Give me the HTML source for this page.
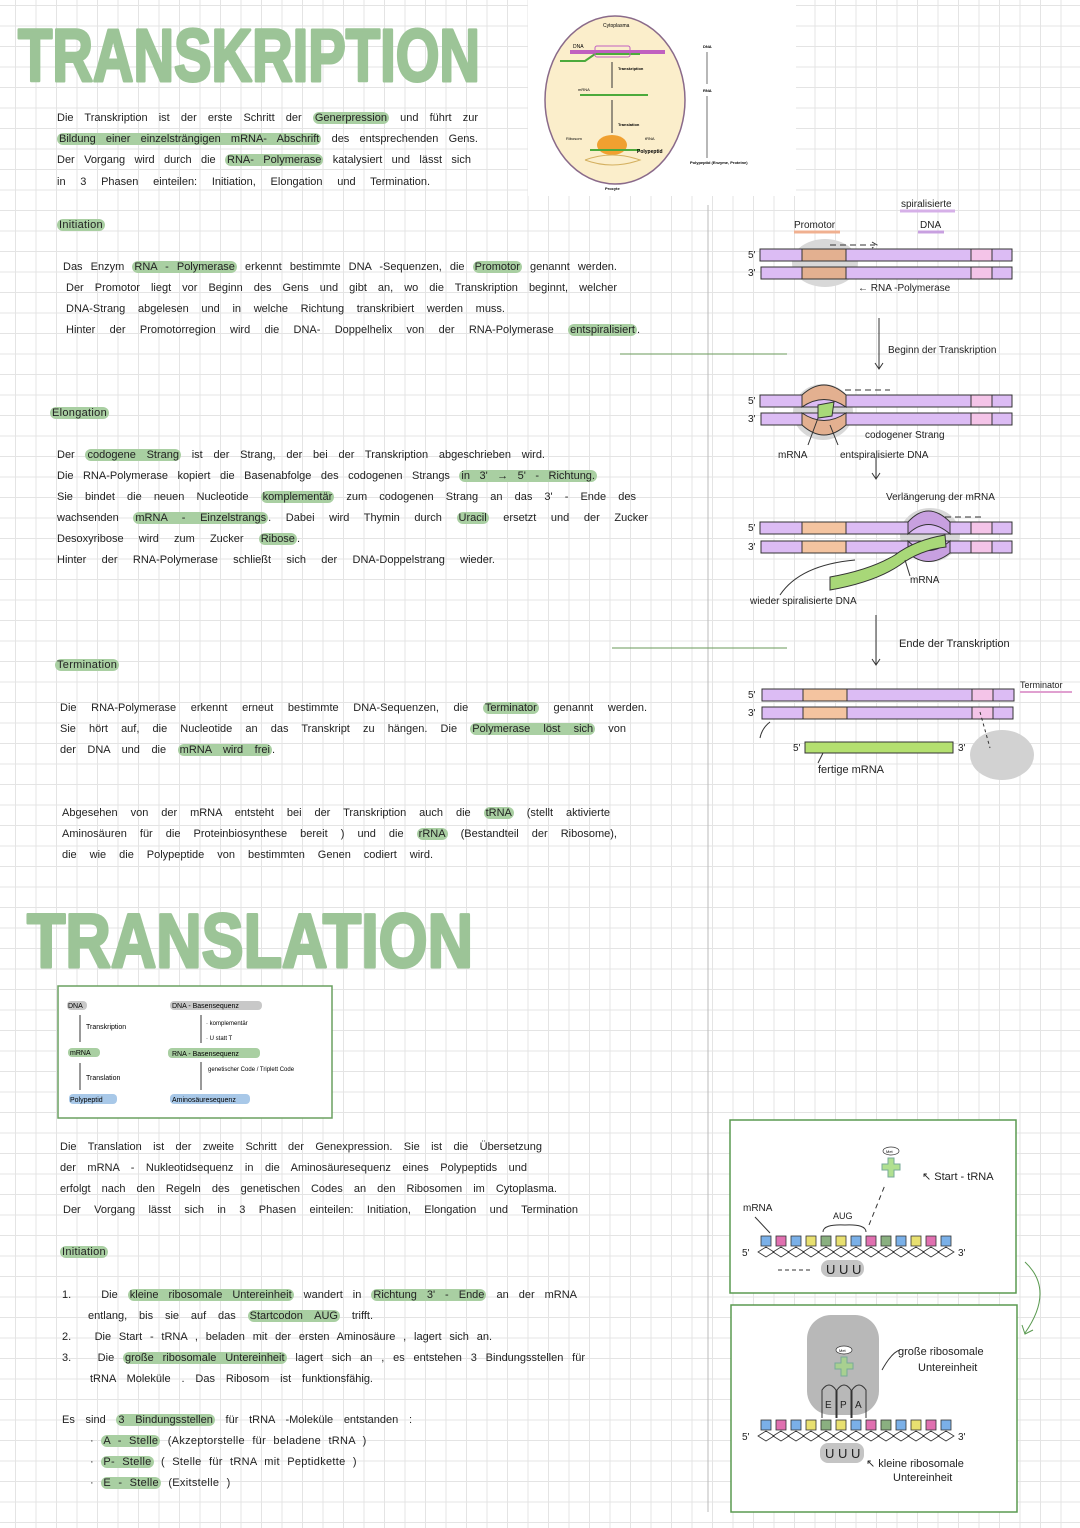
<!DOCTYPE html>
<html><head><meta charset="utf-8"><style>
html,body{margin:0;padding:0}
body{width:1080px;height:1528px;position:relative;overflow:hidden;background:#fff;
background-image:linear-gradient(#e4e4e4 1px,transparent 1px),linear-gradient(90deg,#e4e4e4 1px,transparent 1px);
background-size:20.5px 20.5px;background-position:15px 5px;font-family:"Liberation Sans",sans-serif;color:#222}
.l{position:absolute;font-size:11px;white-space:nowrap;text-align:justify;text-align-last:justify;line-height:14px;height:14px}
.n{position:absolute;font-size:11px;white-space:nowrap;line-height:14px;word-spacing:4px;letter-spacing:.3px}
.h{background:#a9cfa2;border-radius:6px;padding:0 2px}
svg{position:absolute;left:0;top:0}
.s{font-size:10px;font-family:"Liberation Sans",sans-serif;fill:#222}
.t{font-family:"Liberation Sans",sans-serif;font-weight:bold;fill:#9cc497;stroke:#9cc497;stroke-width:3;stroke-linejoin:round}
</style></head><body>

<div class="l" style="left:57px;top:111px;width:421px">Die Transkription ist der erste Schritt der <span class="h">Generpression</span> und führt zur</div>
<div class="l" style="left:57px;top:132px;width:421px"><span class="h">Bildung einer einzelsträngigen mRNA- Abschrift</span> des entsprechenden Gens.</div>
<div class="l" style="left:57px;top:153px;width:414px">Der Vorgang wird durch die <span class="h">RNA- Polymerase</span> katalysiert und lässt sich</div>
<div class="l" style="left:57px;top:175px;width:373px">in 3 Phasen einteilen: Initiation, Elongation und Termination.</div>
<div class="n" style="left:57px;top:218px"><span class="h">Initiation</span></div>

<div class="l" style="left:63px;top:260px;width:554px">Das Enzym <span class="h">RNA - Polymerase</span> erkennt bestimmte DNA -Sequenzen, die <span class="h">Promotor</span> genannt werden.</div>
<div class="l" style="left:66px;top:281px;width:551px">Der Promotor liegt vor Beginn des Gens und gibt an, wo die Transkription beginnt, welcher</div>
<div class="l" style="left:66px;top:302px;width:439px">DNA-Strang abgelesen und in welche Richtung transkribiert werden muss.</div>
<div class="l" style="left:66px;top:323px;width:574px">Hinter der Promotorregion wird die DNA- Doppelhelix von der RNA-Polymerase <span class="h">entspiralisiert</span>.</div>

<div class="n" style="left:50px;top:406px"><span class="h">Elongation</span></div>
<div class="l" style="left:57px;top:448px;width:488px">Der <span class="h">codogene Strang</span> ist der Strang, der bei der Transkription abgeschrieben wird.</div>
<div class="l" style="left:57px;top:469px;width:540px">Die RNA-Polymerase kopiert die Basenabfolge des codogenen Strangs <span class="h">in 3' → 5' - Richtung.</span></div>
<div class="l" style="left:57px;top:490px;width:579px">Sie bindet die neuen Nucleotide <span class="h">komplementär</span> zum codogenen Strang an das 3' - Ende des</div>
<div class="l" style="left:57px;top:511px;width:591px">wachsenden <span class="h">mRNA - Einzelstrangs</span>. Dabei wird Thymin durch <span class="h">Uracil</span> ersetzt und der Zucker</div>
<div class="l" style="left:57px;top:532px;width:243px">Desoxyribose wird zum Zucker <span class="h">Ribose</span>.</div>
<div class="l" style="left:57px;top:553px;width:438px">Hinter der RNA-Polymerase schließt sich der DNA-Doppelstrang wieder.</div>

<div class="n" style="left:55px;top:658px"><span class="h">Termination</span></div>
<div class="l" style="left:60px;top:701px;width:587px">Die RNA-Polymerase erkennt erneut bestimmte DNA-Sequenzen, die <span class="h">Terminator</span> genannt werden.</div>
<div class="l" style="left:60px;top:722px;width:566px">Sie hört auf, die Nucleotide an das Transkript zu hängen. Die <span class="h">Polymerase löst sich</span> von</div>
<div class="l" style="left:60px;top:743px;width:215px">der DNA und die <span class="h">mRNA wird frei</span>.</div>

<div class="l" style="left:62px;top:806px;width:548px">Abgesehen von der mRNA entsteht bei der Transkription auch die <span class="h">tRNA</span> (stellt aktivierte</div>
<div class="l" style="left:62px;top:827px;width:555px">Aminosäuren für die Proteinbiosynthese bereit ) und die <span class="h">rRNA</span> (Bestandteil der Ribosome),</div>
<div class="l" style="left:62px;top:848px;width:371px">die wie die Polypeptide von bestimmten Genen codiert wird.</div>

<div class="l" style="left:60px;top:1140px;width:482px">Die Translation ist der zweite Schritt der Genexpression. Sie ist die Übersetzung</div>
<div class="l" style="left:60px;top:1161px;width:467px">der mRNA - Nukleotidsequenz in die Aminosäuresequenz eines Polypeptids und</div>
<div class="l" style="left:60px;top:1182px;width:497px">erfolgt nach den Regeln des genetischen Codes an den Ribosomen im Cytoplasma.</div>
<div class="l" style="left:63px;top:1203px;width:515px">Der Vorgang lässt sich in 3 Phasen einteilen: Initiation, Elongation und Termination</div>
<div class="n" style="left:60px;top:1245px"><span class="h">Initiation</span></div>

<div class="l" style="left:62px;top:1288px;width:515px">1. &nbsp; Die <span class="h">kleine ribosomale Untereinheit</span> wandert in <span class="h">Richtung 3' - Ende</span> an der mRNA</div>
<div class="l" style="left:88px;top:1309px;width:285px">entlang, bis sie auf das <span class="h">Startcodon AUG</span> trifft.</div>
<div class="l" style="left:62px;top:1330px;width:430px">2. &nbsp; Die Start - tRNA , beladen mit der ersten Aminosäure , lagert sich an.</div>
<div class="l" style="left:62px;top:1351px;width:523px">3. &nbsp; Die <span class="h">große ribosomale Untereinheit</span> lagert sich an , es entstehen 3 Bindungsstellen für</div>
<div class="l" style="left:90px;top:1372px;width:283px">tRNA Moleküle . Das Ribosom ist funktionsfähig.</div>
<div class="l" style="left:62px;top:1413px;width:350px">Es sind <span class="h">3 Bindungsstellen</span> für tRNA -Moleküle entstanden :</div>
<div class="n" style="left:90px;top:1434px">· <span class="h">A - Stelle</span> (Akzeptorstelle für beladene tRNA )</div>
<div class="n" style="left:90px;top:1455px">· <span class="h">P- Stelle</span> ( Stelle für tRNA mit Peptidkette )</div>
<div class="n" style="left:90px;top:1476px">· <span class="h">E - Stelle</span> (Exitstelle )</div>

<svg width="1080" height="1528" viewBox="0 0 1080 1528">
<text class="t" x="18" y="81" font-size="74" textLength="462" lengthAdjust="spacingAndGlyphs">TRANSKRIPTION</text>
<text class="t" x="27" y="967" font-size="76" textLength="446" lengthAdjust="spacingAndGlyphs">TRANSLATION</text>
<!-- top image -->
<rect x="528" y="0" width="268" height="196" fill="#fff"/>
<ellipse cx="615" cy="100" rx="70" ry="84" fill="#fbeecb" stroke="#8a6a8a" stroke-width="1.5"/>
<text x="603" y="27" style="font-size:5px">Cytoplasma</text>
<text x="573" y="48" style="font-size:5px">DNA</text>
<path d="M570 52 H665" stroke="#c060c0" stroke-width="4"/>
<path d="M560 61 H585 L595 54 H640" stroke="#4caa3c" stroke-width="2" fill="none"/>
<rect x="595" y="46" width="35" height="11" rx="2" fill="none" stroke="#c060c0"/>
<path d="M612 62 V88" stroke="#333"/>
<text x="618" y="70" style="font-size:4px;font-weight:bold">Transkription</text>
<text x="578" y="91" style="font-size:4px">mRNA</text>
<path d="M580 95 H648" stroke="#4caa3c" stroke-width="2"/>
<path d="M612 100 V133" stroke="#333"/>
<text x="618" y="126" style="font-size:4px;font-weight:bold">Translation</text>
<text x="566" y="140" style="font-size:4px">Ribosom</text>
<ellipse cx="612" cy="145" rx="15" ry="10" fill="#f0a030"/>
<path d="M590 150 H640" stroke="#4caa3c" stroke-width="2"/>
<path d="M585 160 Q612 150 640 160 Q612 170 585 160" fill="none" stroke="#d4b060"/>
<text x="645" y="140" style="font-size:4px">tRNA</text>
<text x="637" y="153" style="font-size:5px;font-weight:bold">Polypeptid</text>
<text x="605" y="190" style="font-size:4px;font-weight:bold">Procyte</text>
<text x="703" y="48" style="font-size:4px;font-weight:bold">DNA</text>
<path d="M707 52 V84" stroke="#333" stroke-width=".7"/>
<text x="703" y="92" style="font-size:4px;font-weight:bold">RNA</text>
<path d="M707 96 V158" stroke="#333" stroke-width=".7"/>
<text x="690" y="164" style="font-size:4px;font-weight:bold">Polypeptid (Enzyme, Proteine)</text>

<!-- separators -->
<path d="M708 205 V1512" stroke="#bbb" stroke-width="1"/>
<path d="M620 354 H787" stroke="#6a9a5a" stroke-width="1"/>
<path d="M612 648 H787" stroke="#6a9a5a" stroke-width="1"/>

<text x="901" y="207" class="s">spiralisierte</text>
<path d="M900 211 H955" stroke="#d6b0e8" stroke-width="3"/>
<text x="794" y="228" class="s">Promotor</text>
<path d="M794 232 H840" stroke="#f0b090" stroke-width="3"/>
<text x="920" y="228" class="s">DNA</text>
<path d="M918 232 H944" stroke="#c8a0e0" stroke-width="3"/>
<!-- row 1 -->
<ellipse cx="825" cy="263" rx="33" ry="24" fill="#d8d8d8"/>
<g stroke="#333" stroke-width="1">
<rect x="760" y="249" width="252" height="12" fill="#dcbcf4"/>
<rect x="761" y="267" width="251" height="12" fill="#dcbcf4"/>
<rect x="802" y="249" width="44" height="12" fill="#e3b090"/>
<rect x="802" y="267" width="44" height="12" fill="#e3b090"/>
<rect x="971" y="249" width="21" height="12" fill="#f4c4e8"/>
<rect x="971" y="267" width="21" height="12" fill="#f4c4e8"/>
</g>
<text x="748" y="258" class="s">5'</text><text x="748" y="276" class="s">3'</text>
<path d="M830 245 H875 M872 242 L877 245 L872 248" stroke="#333" stroke-dasharray="6 4" fill="none"/>
<text x="858" y="291" class="s">←  RNA -Polymerase</text>
<path d="M879 318 V368 M875 363 L879 369 L883 363" stroke="#333" fill="none"/>
<text x="888" y="353" class="s">Beginn  der  Transkription</text>
<!-- row 2 -->
<ellipse cx="823" cy="412" rx="30" ry="28" fill="#d8d8d8"/>
<g stroke="#333" stroke-width="1">
<rect x="760" y="395" width="252" height="12" fill="#dcbcf4"/>
<rect x="761" y="413" width="251" height="12" fill="#dcbcf4"/>
<rect x="971" y="395" width="21" height="12" fill="#f4c4e8"/>
<rect x="971" y="413" width="21" height="12" fill="#f4c4e8"/>
<path d="M802 395 Q824 375 846 395 V407 Q824 392 802 407 Z" fill="#e3b090"/>
<path d="M802 413 Q824 428 846 413 V425 Q824 445 802 425 Z" fill="#e3b090"/>
<path d="M818 405 L834 402 L832 416 L818 418 Z" fill="#a8d878"/>
<path d="M808 445 L818 418 M838 445 L830 425" fill="none"/>
</g>
<text x="748" y="404" class="s">5'</text><text x="748" y="422" class="s">3'</text>
<path d="M845 390 H890" stroke="#333" stroke-dasharray="6 4"/>
<text x="778" y="458" class="s">mRNA</text>
<text x="840" y="458" class="s">entspiralisierte DNA</text>
<text x="865" y="438" class="s">codogener Strang</text>
<path d="M876 458 V478 M872 473 L876 479 L880 473" stroke="#333" fill="none"/>
<text x="886" y="500" class="s">Verlängerung der mRNA</text>
<!-- row 3 -->
<ellipse cx="930" cy="535" rx="30" ry="27" fill="#d8d8d8"/>
<g stroke="#333" stroke-width="1">
<rect x="760" y="522" width="252" height="12" fill="#dcbcf4"/>
<rect x="761" y="541" width="251" height="12" fill="#dcbcf4"/>
<rect x="802" y="522" width="44" height="12" fill="#f4c4a0"/>
<rect x="802" y="541" width="44" height="12" fill="#f4c4a0"/>
<rect x="971" y="522" width="21" height="12" fill="#f4c4e8"/>
<rect x="971" y="541" width="21" height="12" fill="#f4c4e8"/>
<path d="M908 522 Q928 500 950 522 V534 Q928 515 908 534 Z" fill="#c8a0e0"/>
<path d="M908 553 Q928 570 950 553 V541 Q928 560 908 541 Z" fill="#c8a0e0"/>
<path d="M830 577 Q870 570 895 555 Q915 540 945 535 L946 547 Q920 550 900 565 Q875 582 830 590 Z" fill="#a8d878"/>
<path d="M780 595 Q800 565 855 560 M910 576 L905 560" fill="none"/>
</g>
<text x="748" y="531" class="s">5'</text><text x="748" y="550" class="s">3'</text>
<path d="M945 517 H985" stroke="#333" stroke-dasharray="6 4"/>
<text x="910" y="583" class="s">mRNA</text>
<text x="750" y="604" class="s">wieder  spiralisierte  DNA</text>
<path d="M876 615 V664 M872 659 L876 665 L880 659" stroke="#333" fill="none"/>
<text x="899" y="647" class="s" style="font-size:11px">Ende  der  Transkription</text>
<!-- row 4 -->
<ellipse cx="1002" cy="755" rx="32" ry="25" fill="#d2d2d2"/>
<g stroke="#333" stroke-width="1">
<rect x="762" y="689" width="252" height="12" fill="#dcbcf4"/>
<rect x="762" y="707" width="251" height="12" fill="#dcbcf4"/>
<rect x="803" y="689" width="44" height="12" fill="#f4c4a0"/>
<rect x="803" y="707" width="44" height="12" fill="#f4c4a0"/>
<rect x="972" y="689" width="21" height="12" fill="#f4c4e8"/>
<rect x="972" y="707" width="21" height="12" fill="#f4c4e8"/>
<rect x="805" y="742" width="148" height="11" fill="#b4e070"/>
<path d="M760 738 Q762 728 770 722 M818 763 L823 753" fill="none"/>
<path d="M980 712 L990 748" stroke-dasharray="3 3"/>
</g>
<text x="748" y="698" class="s">5'</text><text x="748" y="716" class="s">3'</text>
<text x="793" y="751" class="s">5'</text><text x="958" y="751" class="s">3'</text>
<text x="1020" y="688" class="s" style="font-size:9px">Terminator</text>
<path d="M1020 692 H1072" stroke="#e0a0d0" stroke-width="2"/>
<text x="818" y="773" class="s" style="font-size:11px">fertige mRNA</text>

<!-- translation box left -->
<rect x="58" y="986" width="274" height="132" fill="#fff" stroke="#6aa060" stroke-width="1.5"/>
<rect x="67" y="1001" width="20" height="9" rx="4" fill="#c8c8c8"/><text x="68" y="1008" style="font-size:7px">DNA</text>
<path d="M80 1015 V1042" stroke="#333"/><text x="86" y="1029" style="font-size:7px">Transkription</text>
<rect x="68" y="1048" width="32" height="9" rx="4" fill="#a9cfa2"/><text x="70" y="1055" style="font-size:7px">mRNA</text>
<path d="M80 1063 V1090" stroke="#333"/><text x="86" y="1080" style="font-size:7px">Translation</text>
<rect x="69" y="1094" width="48" height="10" rx="4" fill="#a8c8e8"/><text x="70" y="1102" style="font-size:7px">Polypeptid</text>
<rect x="170" y="1001" width="92" height="9" rx="4" fill="#c8c8c8"/><text x="172" y="1008" style="font-size:7px">DNA - Basensequenz</text>
<path d="M201 1015 V1043" stroke="#333"/><text x="206" y="1025" style="font-size:6px">· komplementär</text><text x="206" y="1040" style="font-size:6px">· U statt T</text>
<rect x="168" y="1048" width="92" height="10" rx="4" fill="#a9cfa2"/><text x="172" y="1056" style="font-size:7px">RNA - Basensequenz</text>
<path d="M201 1062 V1090" stroke="#333"/><text x="208" y="1071" style="font-size:6px">genetischer Code  /  Triplett Code</text>
<rect x="170" y="1094" width="80" height="10" rx="4" fill="#a8c8e8"/><text x="172" y="1102" style="font-size:7px">Aminosäuresequenz</text>

<!-- translation right boxes -->
<rect x="730" y="1120" width="286" height="173" fill="#fff" stroke="#5a9a50" stroke-width="1.5"/>
<rect x="731" y="1305" width="286" height="207" fill="#fff" stroke="#5a9a50" stroke-width="1.5"/>
<path d="M1025 1262 Q1055 1290 1025 1333 M1022 1325 L1025 1334 L1033 1330" stroke="#5a9a50" fill="none"/>

<g id="codons">
<g stroke="#333" stroke-width=".8">
<rect x="761" y="1236" width="10" height="10" fill="#7ab0e8"/>
<rect x="776" y="1236" width="10" height="10" fill="#e070b0"/>
<rect x="791" y="1236" width="10" height="10" fill="#7ab0e8"/>
<rect x="806" y="1236" width="10" height="10" fill="#e8e070"/>
<rect x="821" y="1236" width="10" height="10" fill="#8ab080"/>
<rect x="836" y="1236" width="10" height="10" fill="#e8e070"/>
<rect x="851" y="1236" width="10" height="10" fill="#7ab0e8"/>
<rect x="866" y="1236" width="10" height="10" fill="#e070b0"/>
<rect x="881" y="1236" width="10" height="10" fill="#8ab080"/>
<rect x="896" y="1236" width="10" height="10" fill="#7ab0e8"/>
<rect x="911" y="1236" width="10" height="10" fill="#e8e070"/>
<rect x="926" y="1236" width="10" height="10" fill="#e070b0"/>
<rect x="941" y="1236" width="10" height="10" fill="#7ab0e8"/>
<path d="M758 1252 l8 -5 l8 5 l-8 5 z M773 1252 l8 -5 l8 5 l-8 5 z M788 1252 l8 -5 l8 5 l-8 5 z M803 1252 l8 -5 l8 5 l-8 5 z M818 1252 l8 -5 l8 5 l-8 5 z M833 1252 l8 -5 l8 5 l-8 5 z M848 1252 l8 -5 l8 5 l-8 5 z M863 1252 l8 -5 l8 5 l-8 5 z M878 1252 l8 -5 l8 5 l-8 5 z M893 1252 l8 -5 l8 5 l-8 5 z M908 1252 l8 -5 l8 5 l-8 5 z M923 1252 l8 -5 l8 5 l-8 5 z M938 1252 l8 -5 l8 5 l-8 5 z" fill="#fff"/>
</g>
<text x="742" y="1256" class="s">5'</text><text x="958" y="1256" class="s">3'</text>
</g>
<use href="#codons" transform="translate(0,184)"/>
<rect x="821" y="1260" width="43" height="17" rx="8" fill="#c4c4c4"/>
<text x="826" y="1274" class="s" style="font-size:13px">U U U</text>
<path d="M778 1270 H810" stroke="#333" stroke-dasharray="4 3"/>
<text x="743" y="1211" class="s">mRNA</text>
<path d="M755 1217 L770 1233" stroke="#333"/>
<text x="833" y="1219" class="s" style="font-size:9px">AUG</text>
<path d="M823 1232 Q823 1224 845 1225 Q866 1224 866 1232" stroke="#333" fill="none"/>
<path d="M869 1225 L885 1185" stroke="#333" stroke-dasharray="5 4"/>
<ellipse cx="891" cy="1151" rx="8" ry="4" fill="#fff" stroke="#333" stroke-width=".7"/>
<text x="886" y="1153" style="font-size:4px">Met</text>
<path d="M888 1158 h6 v6 h6 v6 h-6 v7 h-6 v-7 h-6 v-6 h6z" fill="#b0e090" stroke="#7a9"/>
<text x="922" y="1180" class="s" style="font-size:11px">↖ Start - tRNA</text>

<rect x="807" y="1315" width="72" height="100" rx="24" fill="#b8b8b8"/>
<rect x="820" y="1443" width="44" height="20" rx="8" fill="#c4c4c4"/>
<text x="825" y="1458" class="s" style="font-size:13px">U U U</text>
<ellipse cx="844" cy="1350" rx="8" ry="4" fill="#fff" stroke="#333" stroke-width=".7"/>
<text x="839" y="1352" style="font-size:4px">Met</text>
<path d="M841 1357 h6 v6 h6 v6 h-6 v7 h-6 v-7 h-6 v-6 h6z" fill="#a8d090" stroke="#7a9"/>
<g stroke="#333" fill="none">
<path d="M822 1418 V1390 Q829 1380 836 1390 V1418"/>
<path d="M837 1418 V1390 Q844 1380 851 1390 V1418"/>
<path d="M852 1418 V1390 Q859 1380 866 1390 V1418"/>
</g>
<text x="825" y="1408" class="s">E</text><text x="840" y="1408" class="s">P</text><text x="855" y="1408" class="s">A</text>
<path d="M882 1370 Q892 1352 900 1350" stroke="#333" fill="none"/>
<text x="898" y="1355" class="s" style="font-size:11px">große ribosomale</text>
<text x="918" y="1371" class="s" style="font-size:11px">Untereinheit</text>
<text x="866" y="1467" class="s" style="font-size:11px">↖ kleine ribosomale</text>
<text x="893" y="1481" class="s" style="font-size:11px">Untereinheit</text>
</svg>
</body></html>
